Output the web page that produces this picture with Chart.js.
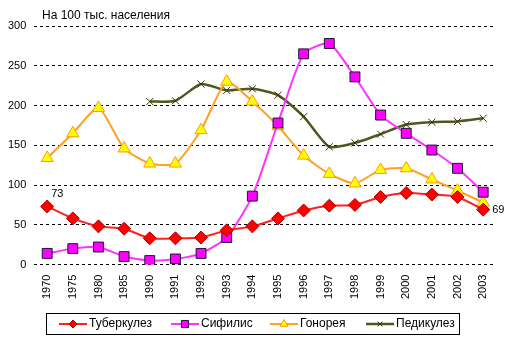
<!DOCTYPE html>
<html>
<head>
<meta charset="utf-8">
<script src="https://cdn.jsdelivr.net/npm/chart.js@4/dist/chart.umd.min.js"></script>
<style>
  html, body { margin: 0; padding: 0; background: #fff; }
  #wrap { width: 511px; height: 340px; }
</style>
</head>
<body>
<div id="wrap"><canvas id="c" width="511" height="340"></canvas></div>
<script>
const years = ['1970','1975','1980','1985','1990','1991','1992','1993','1994','1995','1996','1997','1998','1999','2000','2001','2002','2003'];
const tuberculosis = [73, 58, 48, 45, 33, 33, 34, 43, 48, 58, 68, 74, 75, 85, 90, 88, 85, 69];
const syphilis = [14, 20, 22, 10, 5, 7, 14, 34, 86, 178, 265, 278, 236, 188, 165, 144, 121, 91];
const gonorrhea = [134, 165, 197, 146, 127, 127, 169, 230, 205, 174, 137, 114, 102, 119, 121, 107, 93, 78];
const pediculosis = [null, null, null, null, 205, 206, 227, 219, 221, 213, 186, 148, 153, 164, 176, 179, 180, 184];
const seriesNames = ['Туберкулез', 'Сифилис', 'Гонорея', 'Педикулез'];
const yTicks = [0, 50, 100, 150, 200, 250, 300];
const unitTitle = 'На 100 тыс. населения';

const FONT = '"Liberation Sans", Arial, sans-serif';

// legend layout (x of line start for each item)
const legendX = [59, 171, 270, 366];

const extras = {
    id: 'extras',
    afterDraw(chart) {
        const ctx = chart.ctx;
        ctx.save();
        // title
        ctx.fillStyle = '#000';
        ctx.font = '12px ' + FONT;
        ctx.textBaseline = 'alphabetic';
        ctx.textAlign = 'left';
        ctx.fillText(unitTitle, 42, 19);

        // value labels for first and last tuberculosis points
        const meta = chart.getDatasetMeta(0);
        const p0 = meta.data[0];
        const pN = meta.data[meta.data.length - 1];
        ctx.font = '11px ' + FONT;
        ctx.textBaseline = 'middle';
        ctx.fillText(String(tuberculosis[0]), p0.x + 4, p0.y - 13);
        ctx.fillText(String(tuberculosis[tuberculosis.length - 1]), pN.x + 9, pN.y);

        // legend box
        ctx.strokeStyle = '#000';
        ctx.lineWidth = 1;
        ctx.strokeRect(46.5, 313.5, 413, 21);
        const ly = 324;
        chart.data.datasets.forEach((ds, i) => {
            const x0 = legendX[i];
            ctx.beginPath();
            ctx.strokeStyle = ds.borderColor;
            ctx.lineWidth = ds.borderWidth;
            ctx.moveTo(x0, ly);
            ctx.lineTo(x0 + 28, ly);
            ctx.stroke();
            ctx.fillStyle = ds.pointBackgroundColor;
            ctx.strokeStyle = ds.pointBorderColor;
            ctx.lineWidth = 1;
            Chart.helpers.drawPoint(ctx, {
                pointStyle: ds.pointStyle,
                radius: ds.legendRadius,
                rotation: 0,
                borderWidth: 1
            }, x0 + 14, ly);
            ctx.fillStyle = '#000';
            ctx.font = '12px ' + FONT;
            ctx.textBaseline = 'middle';
            ctx.textAlign = 'left';
            ctx.fillText(ds.label, x0 + 30, ly);
        });
        ctx.restore();
    }
};

const chart = new Chart(document.getElementById('c').getContext('2d'), {
    type: 'line',
    plugins: [extras],
    data: {
        labels: years,
        datasets: [
            {
                label: seriesNames[0],
                data: tuberculosis,
                borderColor: '#ff2020',
                borderWidth: 2,
                pointStyle: 'rectRot',
                pointRadius: 6.5,
                pointBackgroundColor: '#ff0000',
                pointBorderColor: '#b00000',
                pointBorderWidth: 1,
                legendRadius: 4,
                order: 1
            },
            {
                label: seriesNames[1],
                data: syphilis,
                borderColor: '#ff33ff',
                borderWidth: 2,
                pointStyle: 'rect',
                pointRadius: 7,
                pointBackgroundColor: '#ff00ff',
                pointBorderColor: '#1a1a33',
                pointBorderWidth: 1,
                legendRadius: 5,
                order: 2
            },
            {
                label: seriesNames[2],
                data: gonorrhea,
                borderColor: '#ffa020',
                borderWidth: 2,
                pointStyle: 'triangle',
                pointRadius: 7,
                pointBackgroundColor: '#ffff00',
                pointBorderColor: '#ff9900',
                pointBorderWidth: 1,
                legendRadius: 4.5,
                order: 3
            },
            {
                label: seriesNames[3],
                data: pediculosis,
                borderColor: '#55551f',
                borderWidth: 2.5,
                pointStyle: 'crossRot',
                pointRadius: 5,
                pointBackgroundColor: '#55551f',
                pointBorderColor: '#33330f',
                pointBorderWidth: 1,
                legendRadius: 3.5,
                order: 4
            }
        ]
    },
    options: {
        responsive: false,
        animation: false,
        layout: { padding: { top: 26, left: 0, right: 15, bottom: 39 } },
        elements: { line: { tension: 0.2 } },
        plugins: {
            legend: { display: false },
            tooltip: { enabled: false }
        },
        scales: {
            x: {
                offset: true,
                grid: { display: false },
                border: { display: false },
                ticks: {
                    color: '#000',
                    font: { family: FONT, size: 11 },
                    minRotation: 90,
                    maxRotation: 90,
                    autoSkip: false,
                    padding: 2
                }
            },
            y: {
                min: 0,
                max: 300,
                afterBuildTicks(axis) { axis.ticks = yTicks.map(v => ({ value: v })); },
                grid: { color: '#000', drawTicks: false, lineWidth: 1 },
                border: { display: false, dash: [3, 3] },
                ticks: {
                    color: '#000',
                    font: { family: FONT, size: 11 },
                    padding: 8
                }
            }
        }
    }
});
</script>
</body>
</html>
